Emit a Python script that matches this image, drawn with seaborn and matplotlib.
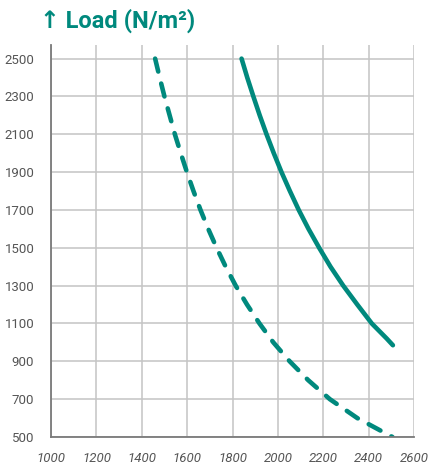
import matplotlib
matplotlib.use("Agg")
import pandas as pd
import seaborn as sns
import matplotlib.pyplot as plt

# data (span vs. load)
span_solid = [1840, 1865, 1892, 1920, 1950, 1982, 2016, 2053, 2092, 2135,
              2182, 2232, 2288, 2350, 2414, 2480, 2507]
load_solid = [2500, 2400, 2300, 2200, 2100, 2000, 1900, 1800, 1700, 1600,
              1500, 1400, 1300, 1200, 1100, 1020, 985]

span_dashed = [1459, 1479, 1500, 1523, 1546, 1572, 1599, 1628, 1659, 1693,
               1730, 1770, 1814, 1864, 1919, 1980, 2052, 2134, 2229, 2350, 2505]
load_dashed = [2500, 2400, 2300, 2200, 2100, 2000, 1900, 1800, 1700, 1600,
               1500, 1400, 1300, 1200, 1100, 1000, 900, 800, 700, 600, 500]

x_ticks = [1000, 1200, 1400, 1600, 1800, 2000, 2200, 2400, 2600]
y_ticks = [500, 700, 900, 1100, 1300, 1500, 1700, 1900, 2100, 2300, 2500]

teal = "#00897d"
grid_c = "#c4c4c4"
label_c = "#555555"

sns.set_style("white")
plt.rcParams["font.family"] = ["Liberation Sans Narrow", "Roboto", "DejaVu Sans"]

fig = plt.figure(figsize=(4.28, 4.71), dpi=100)
ax = fig.add_axes([51 / 428, 1 - 437 / 471, 363 / 428, (437 - 45) / 471])

solid = pd.DataFrame({"span": span_solid, "load": load_solid})
dashed = pd.DataFrame({"span": span_dashed, "load": load_dashed})

sns.lineplot(data=solid, x="span", y="load", sort=False, color=teal,
             linewidth=3.3, solid_capstyle="round", solid_joinstyle="round", ax=ax)
sns.lineplot(data=dashed, x="span", y="load", sort=False, color=teal,
             linewidth=3.3, linestyle=(0, (2.9, 2.7)), dash_capstyle="round",
             dash_joinstyle="round", ax=ax)

ax.set_xlim(1000, 2600)
ax.set_ylim(500, 2572)
ax.set_xticks(x_ticks)
ax.set_yticks(y_ticks)
ax.grid(True, color=grid_c, linewidth=1.1)
ax.set_axisbelow(True)
ax.set_xlabel("")
ax.set_ylabel("")

for s in ["top", "right"]:
    ax.spines[s].set_visible(False)
for s in ["left", "bottom"]:
    ax.spines[s].set_color("#7a7a7a")
    ax.spines[s].set_linewidth(1.3)

ax.tick_params(axis="x", length=4.5, width=1.1, color=grid_c, pad=6,
               labelsize=9.5, labelcolor=label_c)
ax.tick_params(axis="y", length=5, width=1.1, color=grid_c, pad=7,
               labelsize=9.5, labelcolor=label_c)
for t in ax.get_xticklabels():
    t.set_fontstyle("italic")

fig.text(40 / 428, 1 - 20.5 / 471, "↑ Load (N/m²)", color=teal, fontsize=17,
         fontweight="bold", va="center", ha="left",
         family=["Roboto", "DejaVu Sans"])

fig.savefig("out.png", dpi=100)
